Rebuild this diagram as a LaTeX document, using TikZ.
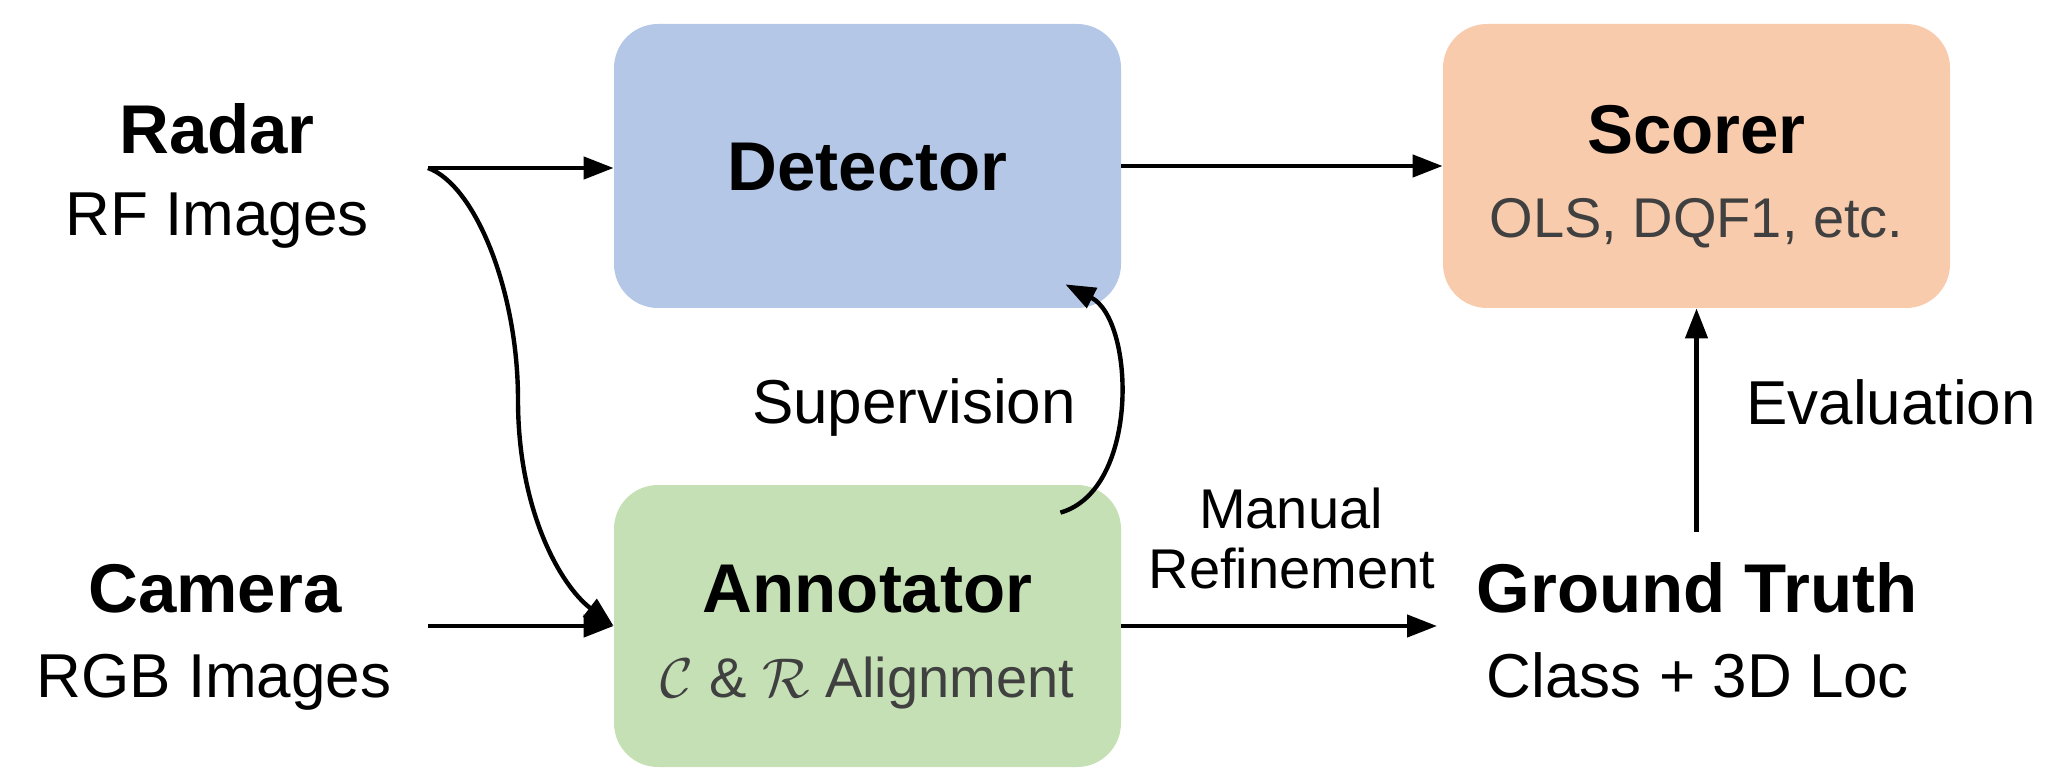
\documentclass[tikz,border=0pt]{standalone}
\usepackage{fontspec}
\setmainfont{Liberation Sans}
\usetikzlibrary{arrows.meta,calc}
% scalable calligraphic letters at any size
\DeclareFontShape{OMS}{cmsy}{m}{n}{<->cmsy10}{}

\definecolor{detfill}{HTML}{B4C7E7}
\definecolor{annfill}{HTML}{C5E0B4}
\definecolor{scfill}{HTML}{F8CBAD}
\definecolor{subgray}{HTML}{404040}

\begin{document}
\begin{tikzpicture}[x=0.5pt,y=-0.5pt,
  block/.style={rounded corners=22pt, minimum width=253.5pt, minimum height=142pt, inner sep=0pt, draw=none},
  title/.style={font=\fontsize{34.5}{40}\selectfont\bfseries, anchor=base, inner sep=0pt},
  label/.style={font=\fontsize{31}{36}\selectfont, anchor=base, inner sep=0pt},
  sub/.style={font=\fontsize{28}{32}\selectfont, text=subgray, anchor=base, inner sep=0pt},
  note/.style={font=\fontsize{28}{32}\selectfont, anchor=base, inner sep=0pt},
  flow/.style={line width=2.2pt, -{Triangle[length=15pt,width=11pt]}}
]
\useasboundingbox (0,0) rectangle (2048,769);

% processing blocks
\node[block, fill=detfill] (det) at (867.5,166) {};
\node[block, fill=annfill, minimum height=141pt] (ann) at (867.5,626) {};
\node[block, fill=scfill] (sc) at (1696.5,166) {};

% block texts
\node[title] (dett) at (867.5,191) {Detector};
\node[title] (annt) at (867.5,612) {Annotator};
\node[sub] (anns) at (867.5,697) {$\mathcal{C}$ \& $\mathcal{R}$ Alignment};
\node[title] (sct) at (1696.5,154) {Scorer};
\node[sub] (scs) at (1696.5,238) {OLS, DQF1, etc.};

% inputs and outputs
\node[title] (radar) at (217,154) {Radar};
\node[label] (rf) at (217,236) {RF Images};
\node[title] (cam) at (215,612) {Camera};
\node[label] (rgb) at (214,697) {RGB Images};
\node[title] (gt) at (1697,612) {Ground Truth};
\node[label] (cls) at (1698,697) {Class + 3D Loc};

% edge labels
\node[label] (sup) at (914,423) {Supervision};
\node[label] (eval) at (1891,425) {Evaluation};
\node[note] (man) at (1291,528) {Manual};
\node[note] (ref) at (1292,588) {Refinement};

% connector end points
\coordinate (rsrc) at (428,168);
\coordinate (csrc) at (428,626);
\coordinate (gtin) at (1437,626);
\coordinate (evsrc) at (1696.5,532);
\coordinate (supsrc) at ($(ann.north east)+(-61,28)$);
\coordinate (supdst) at ($(det.south east)+(-56,-24)$);

% connectors
\draw[flow] (rsrc) -- (rsrc -| det.west);
\draw[flow] (rsrc) .. controls (475,185) and (518,290) .. (518,400)
                   .. controls (518,510) and (560,585) .. (ann.west);
\draw[flow] (csrc) -- (ann.west);
\draw[flow] (det.east) -- (sc.west);
\draw[flow] (ann.east) -- (gtin);
\draw[flow] (evsrc) -- (sc.south);
\draw[flow] (supsrc) .. controls (1140,490) and (1135,320) .. (supdst);
\end{tikzpicture}
\end{document}
